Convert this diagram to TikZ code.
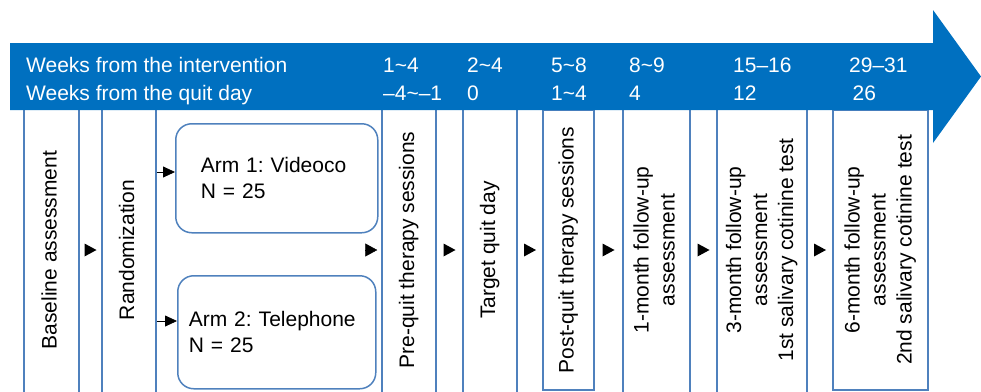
\documentclass[tikz,border=0pt]{standalone}
\usepackage{fontspec}
\setmainfont{Liberation Sans}
\usetikzlibrary{arrows.meta,decorations.markings}
\frenchspacing

\definecolor{bandblue}{HTML}{0070C0}
\definecolor{boxline}{HTML}{4F81BD}

% text that runs upwards inside a step
\newcommand{\sidewise}[1]{\rotatebox{90}{\begin{tabular}{@{}c@{}}#1\end{tabular}}}

\tikzset{
  stage/.style={draw=boxline, line width=1.5pt, fill=white, inner sep=0pt},
  arm/.style={draw=boxline, line width=1.5pt, rounded corners=16pt, align=left,
    inner ysep=0pt, anchor=north west},
  weeks/.style={text=white, anchor=base west, inner sep=0pt},
  gapmark/.style={postaction={decorate}, decoration={markings,
    mark=at position 0.5 with {\fill (-6pt,6.5pt) -- (6pt,0pt) -- (-6pt,-6.5pt) -- cycle;}}},
}

\begin{document}
\begin{tikzpicture}[x=1pt, y=-1pt, font=\fontsize{21}{26}\selectfont]
        \useasboundingbox (0,0) rectangle (981,391);

        % steps of the study
        \node[stage, minimum width=55pt, minimum height=290pt] (base) at (51.5,250) {\sidewise{Baseline assessment}};
        \node[stage, minimum width=54pt, minimum height=290pt] (rand) at (129,250) {\sidewise{Randomization}};
        \node[arm, minimum width=202pt, minimum height=109pt, inner xsep=25pt, text width=152pt] (arm1) at (175,123) {Arm 1: Videoco\\N = 25};
        \node[arm, minimum width=198pt, minimum height=113pt, inner xsep=11pt, text width=176pt] (arm2) at (177,275) {Arm 2: Telephone\\N = 25};
        \node[stage, minimum width=54pt, minimum height=290pt] (pre) at (409,250) {\sidewise{Pre-quit therapy sessions}};
        \node[stage, minimum width=54pt, minimum height=290pt] (target) at (490,250) {\sidewise{Target quit day}};
        \node[stage, minimum width=51pt, minimum height=280pt] (post) at (568.5,250) {\sidewise{Post-quit therapy sessions}};
        \node[stage, minimum width=67pt, minimum height=290pt] (m1) at (656.5,250) {\sidewise{1-month follow-up\\assessment}};
        \node[stage, minimum width=90pt, minimum height=290pt] (m3) at (762,250) {\sidewise{3-month follow-up\\assessment\\1st salivary cotinine test}};
        \node[stage, minimum width=95pt, minimum height=280pt] (m6) at (880.5,250) {\sidewise{6-month follow-up\\assessment\\2nd salivary cotinine test}};

        % arrows between the steps
        \draw[-{Triangle[length=12pt,width=11pt]}, line width=0.8pt] (rand.east |- 0,172) -- (arm1.west |- 0,172);
        \draw[-{Triangle[length=12pt,width=11pt]}, line width=0.8pt] (rand.east |- 0,321) -- (arm2.west |- 0,321);
        \coordinate (join) at (366,250);
        \draw[-{Triangle[length=12pt,width=13pt]}, line width=0.4pt, shorten >=4pt] (join) -- (pre.west |- join);
        \path[gapmark] (base.east) -- (rand.west);
        \path[gapmark] (pre.east) -- (target.west);
        \path[gapmark] (target.east) -- (post.west);
        \path[gapmark] (post.east) -- (m1.west);
        \path[gapmark] (m1.east) -- (m3.west);
        \path[gapmark] (m3.east) -- (m6.west);

        % time line
        \fill[bandblue] (10,43) -- (933,43) -- (933,10) -- (981,76.5) -- (933,143) -- (933,110) -- (10,110) -- cycle;
        \node[weeks] (wi) at (26,72.7) {Weeks from the intervention};
        \node[weeks] (wq) at (26,100.7) {Weeks from the quit day};
        \foreach \x/\wi/\wq [count=\i] in {383/1\textasciitilde4/--4\textasciitilde--1, 467/2\textasciitilde4/0,
            551/5\textasciitilde8/1\textasciitilde4, 629/8\textasciitilde9/4, 733/15--16/12, 849/29--31/\,26} {
          \node[weeks] (wi-\i) at (\x,72.7) {\wi};
          \node[weeks] (wq-\i) at (\x,100.7) {\wq};
        }
    \end{tikzpicture}
\end{document}
